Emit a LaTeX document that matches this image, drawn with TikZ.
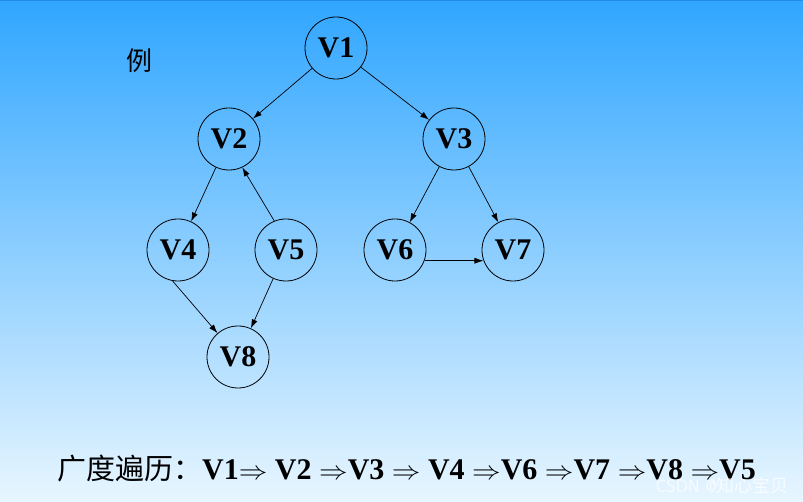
\documentclass[tikz,border=0pt]{standalone}
\usepackage{fontspec}
\usepackage{graphicx}
\setmainfont{Liberation Serif}
\newfontfamily\cjk{Noto Sans CJK SC}
\usetikzlibrary{arrows.meta}
\definecolor{bgtop}{RGB}{48,166,255}
\definecolor{bgbot}{RGB}{232,246,255}
\definecolor{edgeline}{RGB}{40,140,230}
\newcommand{\myarr}{\scalebox{1.15}[1.05]{$\Rightarrow$}}
\tikzset{
  vnode/.style={circle,draw=black,line width=0.8pt,minimum size=62pt,inner sep=0pt,font=\fontsize{30}{30}\selectfont\bfseries},
  arc/.style={line width=0.7pt,-{Latex[length=9pt,width=6pt]}},
}
\begin{document}
\begin{tikzpicture}[x=1pt,y=-1pt]
\shade[top color=bgtop,bottom color=bgbot] (0,0) rectangle (803,502);
\useasboundingbox (0,0) rectangle (803,502);
\draw[edgeline,line width=1.5pt] (0,0.75) -- (803,0.75);
\node[font=\cjk\fontsize{26}{26}\selectfont] (ex) at (139,61) {例};
\node[vnode] (v1) at (336,48) {V1};
\node[vnode] (v2) at (229,139) {V2};
\node[vnode] (v3) at (454,139) {V3};
\node[vnode] (v4) at (178,250) {V4};
\node[vnode] (v5) at (286,250) {V5};
\node[vnode] (v6) at (395,250) {V6};
\node[vnode] (v7) at (513,250) {V7};
\node[vnode] (v8) at (238,357) {V8};
\draw[arc] (v1) -- (v2);
\draw[arc] (v1) -- (v3);
\draw[arc] (v2) -- (v4);
\draw[arc] (v5.112) -- (v2.-65);
\draw[arc] (v3) -- (v6);
\draw[arc] (v3) -- (v7);
\draw[arc] (v4.-100) -- (v8);
\draw[arc] (v5) -- (v8);
\draw[arc] (v6.-20) -- (v7.-160);
\node[anchor=base west,inner sep=0pt,font=\fontsize{30}{30}\selectfont\bfseries] (trav) at (57,479)
  {{\cjk\mdseries\fontsize{29}{29}\selectfont 广度遍历：}V1\myarr{} V2 \myarr{}V3 \myarr{} V4 \myarr{}V6 \myarr{}V7 \myarr{}V8 \myarr{}V5};
\node[anchor=base east,inner sep=0pt,text=white,opacity=0.75,font=\fontsize{18}{18}\selectfont\sffamily] (wm) at (789,492) {CSDN @{\cjk 知心宝贝}};
\end{tikzpicture}
\end{document}
